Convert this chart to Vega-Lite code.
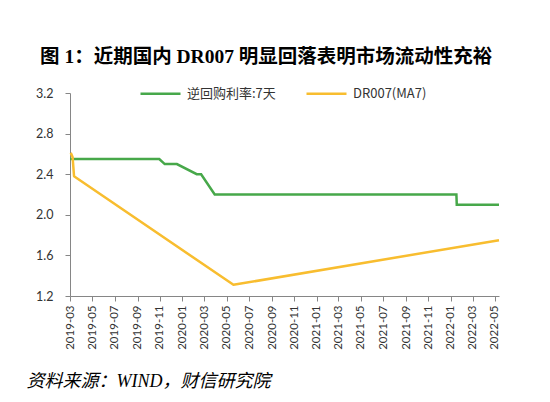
{
  "$schema": "https://vega.github.io/schema/vega-lite/v6.json",
  "background": "white",
  "autosize": {"type": "none"},
  "padding": {"left": 70, "top": 93, "right": 51, "bottom": 106},
  "width": 429,
  "height": 203,
  "title": {"text": "图 1：近期国内 DR007 明显回落表明市场流动性充裕", "anchor": "start", "frame": "bounds", "font": "Liberation Serif, Noto Sans CJK SC", "fontSize": 19.5, "fontWeight": "bold", "color": "#000", "dx": 14, "offset": 5},
  "datasets": {
    "rr": [
      {"d": "2019-03-01", "v": 2.55}, {"d": "2019-10-30", "v": 2.55}, {"d": "2019-11-14", "v": 2.50}, {"d": "2019-12-17", "v": 2.50},
      {"d": "2020-02-09", "v": 2.40}, {"d": "2020-02-21", "v": 2.40}, {"d": "2020-03-29", "v": 2.20}, {"d": "2022-01-16", "v": 2.20},
      {"d": "2022-01-17", "v": 2.10}, {"d": "2022-05-12", "v": 2.10}
    ],
    "dr": [
      {"d":"2019-03-03","v":2.61},{"d":"2019-03-08","v":2.57},{"d":"2019-03-12","v":2.38},{"d":"2020-05-19","v":1.31},{"d":"2022-05-12","v":1.75}
    ]
  },
  "encoding": {
    "x": {"field": "d", "type": "temporal",
      "scale": {"type": "utc", "domain": [{"year": 2019, "month": 3, "date": 1, "utc": true}, {"year": 2022, "month": 5, "date": 12, "utc": true}]},
      "axis": {"title": "资料来源：WIND，财信研究院", "titleFont": "Liberation Serif, Noto Sans CJK SC", "titleFontStyle": "italic", "titleFontWeight": "normal", "titleFontSize": 18, "titleColor": "#000", "titleX": -44, "titleY": 85, "titleAlign": "left", "titleAnchor": "start", "titleBaseline": "middle", "titleAngle": 0,
        "grid": false, "tickCount": {"interval": "month", "step": 2}, "format": "%Y-%m", "labelAngle": 270, "labelFlush": false, "labelOverlap": false, "labelPadding": 4, "tickSize": 5, "labelFont": "Lato", "labelFontSize": 11.5, "labelColor": "#333", "domainColor": "#868686", "tickColor": "#868686"}},
    "y": {"field": "v", "type": "quantitative",
      "scale": {"domain": [1.2, 3.2], "nice": false, "zero": false},
      "axis": {"title": null, "grid": false, "values": [1.2, 1.6, 2.0, 2.4, 2.8, 3.2], "format": ".1f", "labelPadding": 12, "tickSize": 5, "labelFont": "Lato", "labelFontSize": 12.5, "labelColor": "#333", "domainColor": "#868686", "tickColor": "#868686"}}
  },
  "layer": [
    {
      "data": {"values": [{"k": 1}]},
      "mark": {"type": "rule", "color": "red", "strokeWidth": 2, "clip": false},
      "encoding": {
        "x": {"datum": 1577836800000, "type": "temporal"},
        "x2": {"datum": 1609459200000},
        "y": {"datum": 3.0, "type": "quantitative"}
      }
    },
    {
      "data": {"values": [{"k": 1}]},
      "mark": {"type": "rule", "color": "blue", "strokeWidth": 2, "clip": false},
      "encoding": {
        "x": {"datum": 1537747200000, "type": "temporal"},
        "x2": {"datum": 1661212800000},
        "y": {"datum": 3.732, "type": "quantitative"}
      }
    },
    {
      "data": {"values": [{"k": 1}]},
      "mark": {"type": "rule", "color": "magenta", "strokeWidth": 2},
      "encoding": {
        "y": {"datum": 2.9, "type": "quantitative"}
      }
    },
    {
      "mark": {"type": "rule", "color": "cyan", "strokeWidth": 2},
      "encoding": {
        "x": null,
        "y": {"datum": 2.8, "type": "quantitative"}
      }
    },
    {
      "data": {"name": "rr"},
      "mark": {"type": "line", "strokeWidth": 2.5},
      "encoding": {
        "color": {"datum": "逆回购利率:7天", "type": "nominal",
          "scale": {"domain": ["逆回购利率:7天", "DR007(MA7)"], "range": ["#47A84A", "#F8BD2F"]},
          "legend": {"orient": "none", "legendX": 69, "legendY": -21, "direction": "horizontal", "title": null, "symbolType": "stroke", "symbolSize": 1600, "symbolStrokeWidth": 2.5, "labelFont": "Noto Sans CJK SC", "labelFontSize": 13, "labelColor": "#333", "columnPadding": 25, "labelOffset": 5, "padding": 0}}
      }
    },
    {
      "data": {"name": "dr"},
      "mark": {"type": "line", "strokeWidth": 2.5, "strokeJoin": "round"},
      "encoding": {"color": {"datum": "DR007(MA7)", "type": "nominal"}}
    }
  ],
  "config": {"view": {"stroke": null}}
}
